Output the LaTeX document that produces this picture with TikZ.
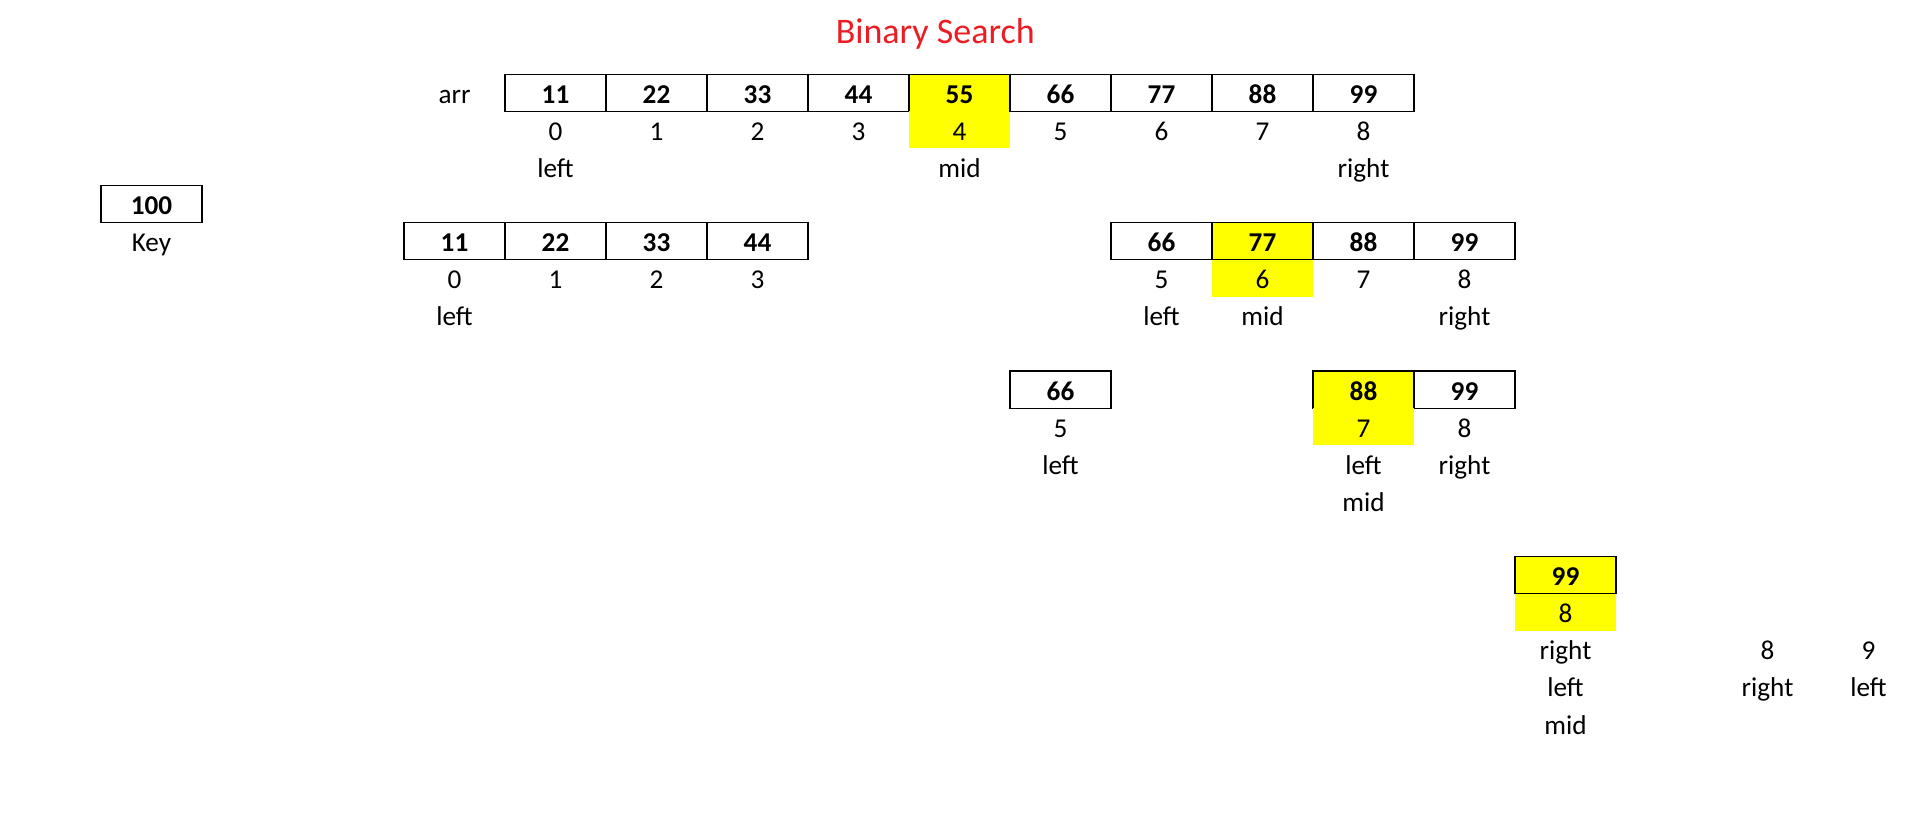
\documentclass[tikz,border=0pt]{standalone}
\usepackage{fontspec}
\setmainfont{Carlito}
\definecolor{hly}{RGB}{255,255,0}
\definecolor{titlered}{RGB}{237,28,36}
\begin{document}
\begin{tikzpicture}[x=50.5pt,y=-18.55pt,
  every node/.style={font=\fontsize{13.6}{16}\selectfont, inner sep=0pt, text height=10.6pt, text depth=0pt},
  cellsz/.style={minimum width=50.5pt, minimum height=18.55pt},
  valcell/.style={cellsz, draw=black, line width=0.6pt, font=\fontsize{13.6}{16}\selectfont\bfseries},
  idxcell/.style={cellsz},
  hl/.style={fill=hly},
  titletext/.style={font=\fontsize{18}{22}\selectfont, text=titlered, text height=12pt}]
\useasboundingbox (0pt,0pt) rectangle (960pt,-407.5pt);

\node[titletext] (title) at (9.26,0.857) {Binary Search};

% Row A
\node (arr) at (4.5,2.5) {arr};
\foreach \v [count=\i from 0] in {11,22,33,44,55,66,77,88,99} {
  \pgfmathtruncatemacro{\c}{5+\i}
  \ifnum\i=4
    \node[valcell,hl] (a\i) at (\c+0.5,2.5) {\v};
    \node[idxcell,hl] (ai\i) at (\c+0.5,3.5) {\i};
  \else
    \node[valcell] (a\i) at (\c+0.5,2.5) {\v};
    \node[idxcell] (ai\i) at (\c+0.5,3.5) {\i};
  \fi
}
\node (aleft) at (5.5,4.5) {left};
\node (amid) at (9.5,4.5) {mid};
\node (aright) at (13.5,4.5) {right};

% Key
\node[valcell] (key) at (1.5,5.5) {100};
\node (keylbl) at (1.5,6.5) {Key};

% Row B left
\foreach \v [count=\i from 0] in {11,22,33,44} {
  \pgfmathtruncatemacro{\c}{4+\i}
  \node[valcell] (bl\i) at (\c+0.5,6.5) {\v};
  \node[idxcell] (bli\i) at (\c+0.5,7.5) {\i};
}
\node (blleft) at (4.5,8.5) {left};

% Row B right
\node[valcell] (br5) at (11.5,6.5) {66};
\node[valcell,hl] (br6) at (12.5,6.5) {77};
\node[valcell] (br7) at (13.5,6.5) {88};
\node[valcell] (br8) at (14.5,6.5) {99};
\node[idxcell] (bri5) at (11.5,7.5) {5};
\node[idxcell,hl] (bri6) at (12.5,7.5) {6};
\node[idxcell] (bri7) at (13.5,7.5) {7};
\node[idxcell] (bri8) at (14.5,7.5) {8};
\node (brleft) at (11.5,8.5) {left};
\node (brmid) at (12.5,8.5) {mid};
\node (brright) at (14.5,8.5) {right};

% Row C
\node[valcell] (c5) at (10.5,10.5) {66};
\node[idxcell] (ci5) at (10.5,11.5) {5};
\node (cleft1) at (10.5,12.5) {left};
\node[valcell,hl] (c7) at (13.5,10.5) {88};
\node[valcell] (c8) at (14.5,10.5) {99};
\node[idxcell,hl] (ci7) at (13.5,11.5) {7};
\node[idxcell] (ci8) at (14.5,11.5) {8};
\node (cleft2) at (13.5,12.5) {left};
\node (cright) at (14.5,12.5) {right};
\node (cmid) at (13.5,13.5) {mid};

% Row D
\node[valcell,hl] (d8) at (15.5,15.5) {99};
\node[idxcell,hl] (di8) at (15.5,16.5) {8};
\node (dright) at (15.5,17.5) {right};
\node (dleft) at (15.5,18.5) {left};
\node (dmid) at (15.5,19.5) {mid};
\node (e8) at (17.5,17.5) {8};
\node (eright) at (17.5,18.5) {right};
\node (e9) at (18.5,17.5) {9};
\node (eleft) at (18.5,18.5) {left};
\end{tikzpicture}
\end{document}
